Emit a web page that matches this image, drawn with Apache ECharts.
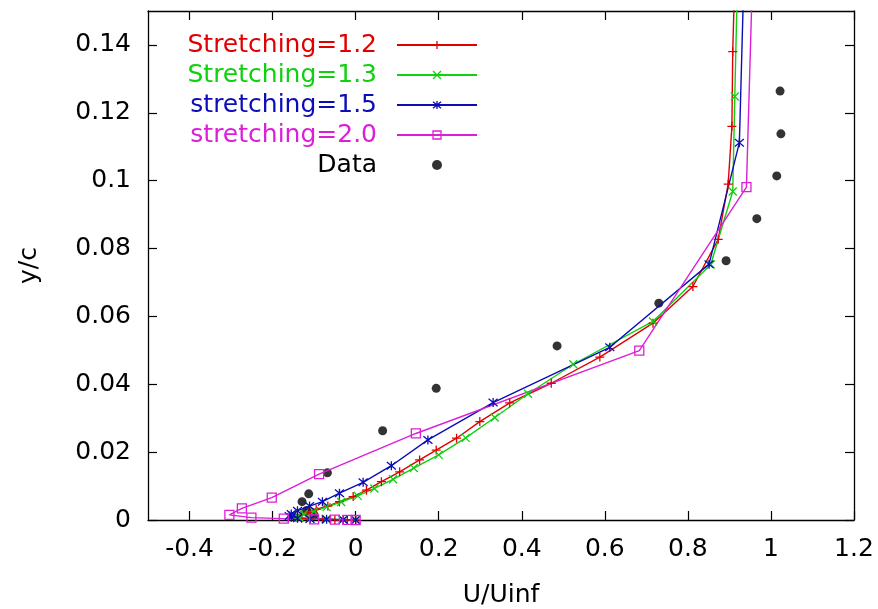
<!DOCTYPE html>
<html>
<head>
<meta charset="utf-8">
<script src="https://cdn.jsdelivr.net/npm/echarts@6/dist/echarts.min.js"></script>
<style>
  html, body { margin: 0; padding: 0; background: #fff; }
  #chart { width: 878px; height: 609px; }
</style>
</head>
<body>
<div id="chart"></div>
<script>
// Velocity profiles U/Uinf against y/c for several wall-normal grid stretchings
const xTicks = [-0.4, -0.2, 0, 0.2, 0.4, 0.6, 0.8, 1, 1.2];
const yTicks = [0, 0.02, 0.04, 0.06, 0.08, 0.1, 0.12, 0.14];

// [U/Uinf, y/c] pairs, from the wall outward
const stretch12 = [
  [0, 0], [-0.02, 0.00005], [-0.05, 0.0001], [-0.08, 0.0002], [-0.11, 0.0003],
  [-0.13, 0.0005], [-0.14, 0.0008], [-0.14, 0.0011], [-0.13, 0.0015],
  [-0.115, 0.0022], [-0.095, 0.0032], [-0.067, 0.0041], [-0.039, 0.0054],
  [-0.006, 0.0069], [0.026, 0.0088], [0.062, 0.0113], [0.106, 0.0142],
  [0.154, 0.0177], [0.194, 0.0206], [0.243, 0.0241], [0.299, 0.029],
  [0.371, 0.0345], [0.471, 0.0403], [0.588, 0.048], [0.716, 0.058],
  [0.812, 0.0688], [0.873, 0.0827], [0.897, 0.099], [0.906, 0.116],
  [0.908, 0.138], [0.914, 0.165]
];
const stretch13 = [
  [0, 0], [-0.03, 0.0001], [-0.07, 0.0002], [-0.11, 0.0004], [-0.135, 0.0007],
  [-0.14, 0.0011], [-0.125, 0.0017], [-0.10, 0.0026], [-0.07, 0.0038],
  [-0.035, 0.0053], [0.005, 0.0071], [0.045, 0.0093], [0.09, 0.012],
  [0.14, 0.0153], [0.2, 0.0192], [0.265, 0.0242], [0.335, 0.0302],
  [0.415, 0.0372], [0.524, 0.0459], [0.716, 0.0585], [0.855, 0.0753],
  [0.908, 0.0968], [0.913, 0.1248], [0.92, 0.163]
];
const stretch15 = [
  [0, 0], [-0.03, 0.0001], [-0.07, 0.0002], [-0.11, 0.0003], [-0.14, 0.0005],
  [-0.155, 0.0008], [-0.16, 0.0012], [-0.155, 0.0018], [-0.14, 0.0027],
  [-0.111, 0.0041], [-0.08, 0.0054], [-0.039, 0.0079], [0.018, 0.0111],
  [0.086, 0.016], [0.174, 0.0236], [0.331, 0.0346], [0.612, 0.0509],
  [0.851, 0.0754], [0.924, 0.1112], [0.936, 0.165]
];
const stretch20 = [
  [0, 0], [-0.02, 0.00005], [-0.05, 0.0001], [-0.1, 0.0002], [-0.173, 0.0004],
  [-0.251, 0.0007], [-0.304, 0.0015], [-0.274, 0.0034], [-0.202, 0.0066],
  [-0.088, 0.0135], [0.145, 0.0255], [0.683, 0.0499], [0.941, 0.0981],
  [0.964, 0.196]
];
const measured = [
  [1.022, 0.1264], [1.024, 0.1138], [1.014, 0.1014], [0.966, 0.0888],
  [0.892, 0.0764], [0.730, 0.0639], [0.485, 0.0513], [0.194, 0.0388],
  [0.065, 0.0263], [-0.068, 0.0139], [-0.113, 0.0077], [-0.129, 0.0054],
  [-0.118, 0.0028], [-0.10, 0.0015]
];

const names = ['Stretching=1.2', 'Stretching=1.3', 'stretching=1.5', 'stretching=2.0', 'Data'];
const colors = ['#e00000', '#10d010', '#0c0cb8', '#dc1ed8', '#000000'];

const FONT = 'DejaVu Sans';
const plusPath = 'path://M5,0L5,10M0,5L10,5';
const crossPath = 'path://M0,0L10,10M0,10L10,0';
const starPath = 'path://M0,0L10,10M0,10L10,0M5,-1L5,11';
const squarePath = 'path://M0,0L10,0L10,10L0,10Z';

function profile(name, data, color, symbol, size) {
  return {
    name: name,
    type: 'line',
    data: data,
    symbol: symbol,
    symbolSize: size,
    showAllSymbol: true,
    clip: true,
    lineStyle: { color: color, width: 1.4 },
    itemStyle: {
      color: symbol === squarePath ? 'rgba(0,0,0,0)' : color,
      borderColor: color,
      borderWidth: 1.3
    },
    emphasis: { disabled: true }
  };
}

const axisCommon = {
  type: 'value',
  splitLine: { show: false },
  axisLine: { show: true, onZero: false, lineStyle: { color: '#000', width: 1.3 } },
  axisTick: { show: true, inside: true, length: 9, lineStyle: { color: '#000', width: 1.2 } }
};

const chart = echarts.init(document.getElementById('chart'), null, { renderer: 'canvas' });
chart.setOption({
  animation: false,
  backgroundColor: '#fff',
  grid: { left: 148, right: 24, top: 11, bottom: 89, outerBoundsMode: 'none', containLabel: false },
  legend: {
    orient: 'vertical',
    align: 'right',
    right: 400,
    top: 30,
    padding: 0,
    itemGap: 0,
    itemWidth: 80,
    itemHeight: 10,
    selectedMode: false,
    textStyle: { fontFamily: FONT, fontSize: 25, lineHeight: 30, padding: [0, 15, 0, 0] },
    data: names.map((n, i) => ({
      name: n,
      textStyle: { color: colors[i] },
      itemStyle: { borderWidth: 1.3 }
    }))
  },
  xAxis: [
    Object.assign({}, axisCommon, {
      position: 'bottom', min: -0.5, max: 1.2,
      name: 'U/Uinf', nameLocation: 'middle', nameGap: 63,
      nameTextStyle: { fontFamily: FONT, fontSize: 25, color: '#000' },
      axisTick: Object.assign({}, axisCommon.axisTick, { customValues: xTicks }),
      axisLabel: { customValues: xTicks, margin: 17, fontFamily: FONT, fontSize: 25, color: '#000' }
    }),
    Object.assign({}, axisCommon, {
      position: 'top', min: -0.5, max: 1.2,
      axisTick: Object.assign({}, axisCommon.axisTick, { customValues: xTicks }),
      axisLabel: { show: false }
    })
  ],
  yAxis: [
    Object.assign({}, axisCommon, {
      position: 'left', min: 0, max: 0.15,
      name: 'y/c', nameLocation: 'middle', nameGap: 106, nameRotate: 90,
      nameTextStyle: { fontFamily: FONT, fontSize: 25, color: '#000' },
      axisTick: Object.assign({}, axisCommon.axisTick, { customValues: yTicks }),
      axisLabel: { customValues: yTicks, margin: 17, fontFamily: FONT, fontSize: 25, color: '#000' }
    }),
    Object.assign({}, axisCommon, {
      position: 'right', min: 0, max: 0.15,
      axisTick: Object.assign({}, axisCommon.axisTick, { customValues: yTicks }),
      axisLabel: { show: false }
    })
  ],
  series: [
    profile(names[0], stretch12, colors[0], plusPath, 9),
    profile(names[1], stretch13, colors[1], crossPath, 8),
    profile(names[2], stretch15, colors[2], starPath, 9),
    profile(names[3], stretch20, colors[3], squarePath, 9),
    {
      name: names[4],
      type: 'scatter',
      data: measured,
      symbol: 'circle',
      symbolSize: 9,
      itemStyle: { color: '#000' },
      emphasis: { disabled: true }
    }
  ]
});
</script>
</body>
</html>
